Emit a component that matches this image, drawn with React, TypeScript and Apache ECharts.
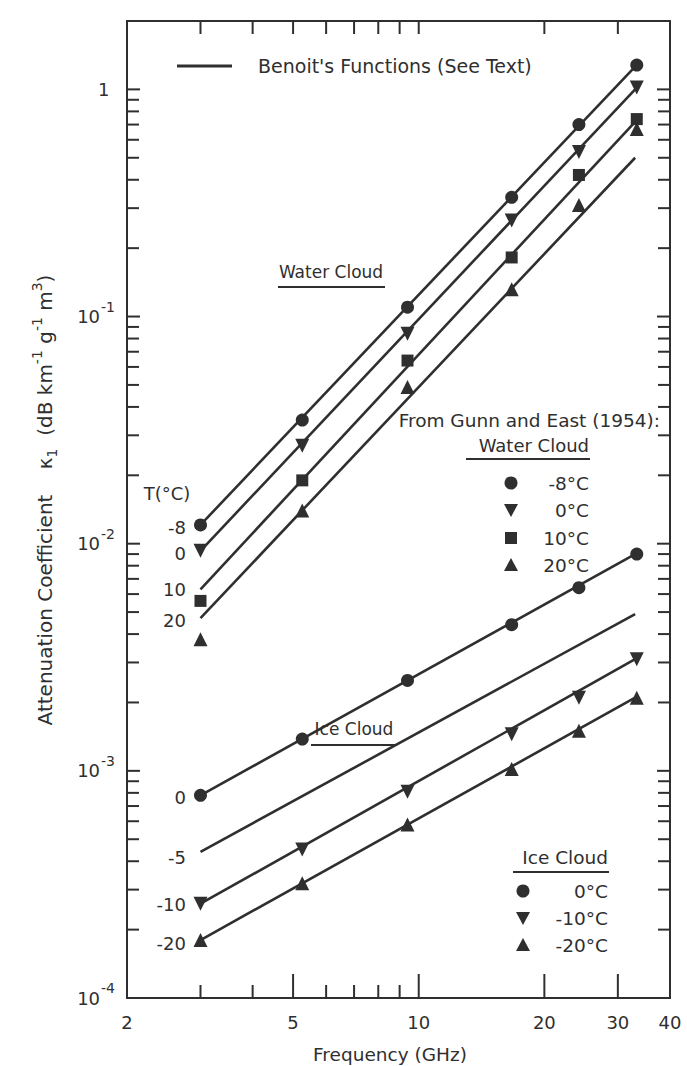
import React, { useEffect, useRef } from 'react';
import * as echarts from 'echarts';

const INK = '#2f2f2f';
const FONT = '"DejaVu Sans", sans-serif';

// ---- data (GHz, dB km^-1 g^-1 m^3) ----
// Gunn and East (1954) measurement frequencies
const freqs = [3.0, 5.26, 9.4, 16.7, 24.2, 33.3];
// water cloud, measured
const waterM8 = [0.0121, 0.035, 0.11, 0.335, 0.7, 1.28];
const water0 = [0.0093, 0.027, 0.084, 0.265, 0.53, 1.02];
const water10 = [0.0056, 0.019, 0.064, 0.182, 0.42, 0.74];
const water20 = [0.0038, 0.014, 0.049, 0.132, 0.31, 0.67];
// ice cloud, measured
const ice0 = [0.00078, 0.00138, 0.0025, 0.0044, 0.0064, 0.009];
const iceM10 = [0.00026, 0.00045, 0.00081, 0.00145, 0.0021, 0.0031];
const iceM20 = [0.00018, 0.00032, 0.00058, 0.00102, 0.0015, 0.0021];

// Benoit's functions (straight lines on log-log), end points
const benoitFreqs = [3.0, 33.0];
const benoitWaterM8 = [0.0121, 1.26];
const benoitWater0 = [0.0093, 1.0];
const benoitWater10 = [0.0063, 0.72];
const benoitWater20 = [0.0047, 0.5];
const benoitIce0 = [0.00078, 0.009];
const benoitIceM5 = [0.00044, 0.0049];
const benoitIceM10 = [0.00026, 0.0031];
const benoitIceM20 = [0.00018, 0.0021];

// ---- axes ----
const X_MIN = 2;
const X_MAX = 40;
const Y_MIN = 1e-4;
const Y_MAX = 2;
const xLabelValues = [2, 5, 10, 20, 30, 40];
const xMajorTicks = [5, 10, 20, 30];
const xMinorTicks = [3, 4, 6, 7, 8, 9];
const xTopTicks = [3, 4, 5, 6, 7, 8, 9, 10, 20, 30];
const yDecades = [1e-4, 1e-3, 1e-2, 1e-1, 1];
const yMantissas = [2, 3, 4, 5, 6, 7, 8, 9];

const yMinorTicks = yDecades.slice(0, 4).flatMap((d) => yMantissas.map((m) => m * d));

const pairs = (xs: number[], ys: number[]) => xs.map((x, i) => [x, ys[i]]);

const tickSeries = (data: number[][], dx: number, dy: number) => ({
  type: 'custom',
  coordinateSystem: 'cartesian2d',
  silent: true,
  clip: false,
  z: 4,
  data,
  renderItem: (_p: any, api: any) => {
    const p = api.coord([api.value(0), api.value(1)]);
    return {
      type: 'line',
      shape: { x1: p[0], y1: p[1], x2: p[0] + dx, y2: p[1] + dy },
      style: { stroke: INK, lineWidth: 2 },
    };
  },
});

const lineSeries = (name: string, ys: number[]) => ({
  name,
  type: 'line',
  data: pairs(benoitFreqs, ys),
  symbol: 'none',
  silent: true,
  z: 2,
  lineStyle: { color: INK, width: 2.6 },
});

const scatterSeries = (name: string, ys: number[], symbol: string, size: number, rotate = 0) => ({
  name,
  type: 'scatter',
  data: pairs(freqs, ys),
  symbol,
  symbolSize: size,
  symbolRotate: rotate,
  silent: true,
  z: 3,
  itemStyle: { color: INK, opacity: 1 },
});

const txt = (text: string, x: number, y: number, align: string, size = 18) => ({
  type: 'text',
  x,
  y,
  silent: true,
  z: 10,
  style: {
    text,
    fill: INK,
    font: `${size}px ${FONT}`,
    align,
    textAlign: align,
    verticalAlign: 'middle',
    textVerticalAlign: 'middle',
  },
});

const hline = (x1: number, x2: number, y: number, w = 2) => ({
  type: 'line',
  silent: true,
  z: 10,
  shape: { x1, y1: y, x2, y2: y },
  style: { stroke: INK, lineWidth: w },
});

const legCircle = (cx: number, cy: number) => ({
  type: 'circle',
  silent: true,
  z: 10,
  shape: { cx, cy, r: 6.5 },
  style: { fill: INK },
});
const legTri = (cx: number, cy: number, down: boolean) => ({
  type: 'polygon',
  silent: true,
  z: 10,
  shape: {
    points: down
      ? [[cx - 7, cy - 6], [cx + 7, cy - 6], [cx, cy + 7]]
      : [[cx - 7, cy + 6], [cx + 7, cy + 6], [cx, cy - 7]],
  },
  style: { fill: INK },
});
const legRect = (cx: number, cy: number) => ({
  type: 'rect',
  silent: true,
  z: 10,
  shape: { x: cx - 6, y: cy - 6, width: 12, height: 12 },
  style: { fill: INK },
});

function buildOption(): any {
  const yTitle = {
    type: 'text',
    x: 44,
    y: 500,
    rotation: Math.PI / 2,
    silent: true,
    style: {
      text: '{t|Attenuation Coefficient    κ}{sub|1}{t|  (dB km}{sup|-1}{t| g}{sup|-1}{t| m}{sup|3}{t|)}',
      align: 'center',
      textAlign: 'center',
      verticalAlign: 'middle',
      textVerticalAlign: 'middle',
      fill: INK,
      rich: {
        t: { fontSize: 20, fontFamily: FONT, fill: INK, color: INK, verticalAlign: 'bottom', padding: [0, 0, 4, 0] },
        sup: { fontSize: 14, fontFamily: FONT, fill: INK, color: INK, verticalAlign: 'bottom', padding: [0, 0, 15, 0] },
        sub: { fontSize: 14, fontFamily: FONT, fill: INK, color: INK, verticalAlign: 'bottom', padding: [0, 0, 0, 0] },
      },
    },
  };

  const graphic = [
    hline(177, 232, 66, 3),
    txt("Benoit's Functions (See Text)", 258, 66, 'left', 19),
    txt('Water Cloud', 331, 272, 'center', 17),
    hline(278, 385, 287),
    txt('T(°C)', 167, 493, 'center', 18),
    txt('-8', 186, 527, 'right', 18),
    txt('0', 186, 553, 'right', 18),
    txt('10', 186, 589, 'right', 18),
    txt('20', 186, 620, 'right', 18),
    txt('Ice Cloud', 354, 729, 'center', 17),
    hline(311, 396, 745),
    txt('0', 186, 797, 'right', 18),
    txt('-5', 186, 857, 'right', 18),
    txt('-10', 186, 904, 'right', 18),
    txt('-20', 186, 943, 'right', 18),
    txt('From Gunn and East (1954):', 660, 420, 'right', 18.5),
    txt('Water Cloud', 589, 445, 'right', 18),
    hline(466, 590, 459),
    legCircle(511, 483),
    txt('-8°C', 589, 483, 'right', 18.5),
    legTri(511, 510, true),
    txt('0°C', 589, 510, 'right', 18.5),
    legRect(511, 538),
    txt('10°C', 589, 538, 'right', 18.5),
    legTri(511, 565, false),
    txt('20°C', 589, 565, 'right', 18.5),
    txt('Ice Cloud', 608, 857, 'right', 18.5),
    hline(513, 609, 872),
    legCircle(523, 891),
    txt('0°C', 608, 891, 'right', 18.5),
    legTri(523, 918, true),
    txt('-10°C', 608, 918, 'right', 18.5),
    legTri(523, 945, false),
    txt('-20°C', 608, 945, 'right', 18.5),
    txt('Frequency (GHz)', 390, 1054, 'center', 18.5),
    yTitle,
  ];

  return {
    animation: false,
    backgroundColor: '#ffffff',
    textStyle: { fontFamily: FONT, color: INK },
    grid: {
      left: 127,
      right: 17,
      top: 21,
      bottom: 68,
      show: true,
      borderColor: INK,
      borderWidth: 2,
      backgroundColor: 'transparent',
    },
    xAxis: {
      type: 'log',
      logBase: 10,
      min: X_MIN,
      max: X_MAX,
      axisLine: { show: false },
      axisTick: { show: false },
      axisLabel: { show: false },
      splitLine: { show: false },
    },
    yAxis: {
      type: 'log',
      logBase: 10,
      min: Y_MIN,
      max: Y_MAX,
      axisLine: { show: false },
      axisTick: { show: false },
      splitLine: { show: false },
      axisLabel: {
        margin: 12,
        padding: [0, 0, 8, 0],
        formatter: (v: number) => {
          const l = Math.log10(v);
          const e = Math.round(l);
          if (Math.abs(l - e) > 1e-6 || !yDecades.some((d) => Math.abs(Math.log10(d) - e) < 1e-6)) return '';
          if (e === 0) return '{b|1}{s| }';
          return `{b|10}{s|${e}}`;
        },
        rich: {
          b: { fontSize: 18, fontFamily: FONT, color: INK, verticalAlign: 'bottom' },
          s: { fontSize: 14, fontFamily: FONT, color: INK, verticalAlign: 'bottom', padding: [0, 0, 12, 1] },
        },
      },
    },
    graphic,
    series: [
      // tick marks
      tickSeries(xMajorTicks.map((v) => [v, Y_MIN]), 0, -24),
      tickSeries(xMinorTicks.map((v) => [v, Y_MIN]), 0, -13),
      tickSeries(xTopTicks.map((v) => [v, Y_MAX]), 0, 13),
      tickSeries(yDecades.map((v) => [X_MIN, v]), 13, 0),
      tickSeries(yMinorTicks.map((v) => [X_MIN, v]), 12, 0),
      tickSeries(yDecades.map((v) => [X_MAX, v]), -13, 0),
      tickSeries(yMinorTicks.map((v) => [X_MAX, v]), -12, 0),
      // x tick labels
      {
        type: 'custom',
        coordinateSystem: 'cartesian2d',
        silent: true,
        clip: false,
        data: xLabelValues.map((v) => [v, Y_MIN]),
        renderItem: (params: any, api: any) => {
          const p = api.coord([api.value(0), api.value(1)]);
          return {
            type: 'text',
            x: p[0],
            y: p[1] + 24,
            style: {
              text: String(xLabelValues[params.dataIndex]),
              fill: INK,
              font: `18px ${FONT}`,
              align: 'center',
              textAlign: 'center',
              verticalAlign: 'middle',
              textVerticalAlign: 'middle',
            },
          };
        },
      },
      // Benoit's functions
      lineSeries('Water -8°C (Benoit)', benoitWaterM8),
      lineSeries('Water 0°C (Benoit)', benoitWater0),
      lineSeries('Water 10°C (Benoit)', benoitWater10),
      lineSeries('Water 20°C (Benoit)', benoitWater20),
      lineSeries('Ice 0°C (Benoit)', benoitIce0),
      lineSeries('Ice -5°C (Benoit)', benoitIceM5),
      lineSeries('Ice -10°C (Benoit)', benoitIceM10),
      lineSeries('Ice -20°C (Benoit)', benoitIceM20),
      // Gunn and East (1954)
      scatterSeries('Water -8°C', waterM8, 'circle', 13),
      scatterSeries('Water 0°C', water0, 'triangle', 14, 180),
      scatterSeries('Water 10°C', water10, 'rect', 12),
      scatterSeries('Water 20°C', water20, 'triangle', 14),
      scatterSeries('Ice 0°C', ice0, 'circle', 13),
      scatterSeries('Ice -10°C', iceM10, 'triangle', 14, 180),
      scatterSeries('Ice -20°C', iceM20, 'triangle', 14),
    ],
  };
}

export default function App() {
  const ref = useRef<HTMLDivElement>(null);
  useEffect(() => {
    if (!ref.current) return;
    const chart = echarts.init(ref.current, null, { renderer: 'svg' });
    chart.setOption(buildOption());
    return () => chart.dispose();
  }, []);
  return (
    <div
      ref={ref}
      style={{ position: 'absolute', left: 0, top: 0, width: 687, height: 1066, background: '#fff' }}
    />
  );
}
